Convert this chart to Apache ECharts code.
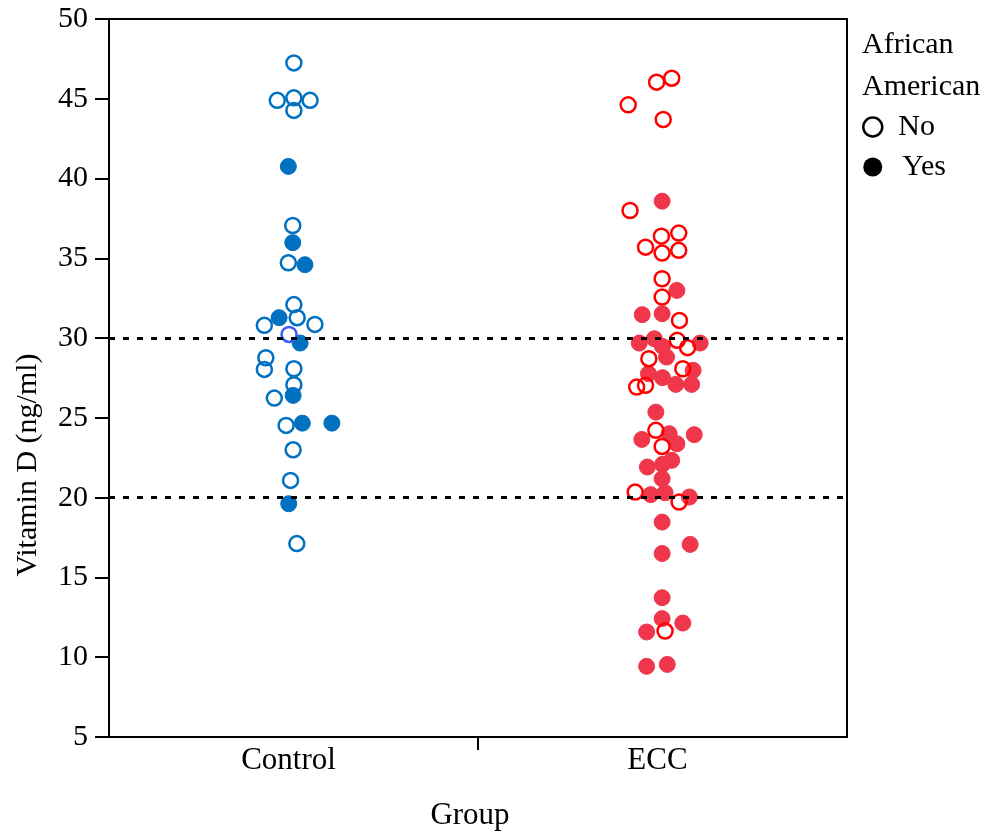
<!DOCTYPE html>
<html><head><meta charset="utf-8">
<script src="https://cdn.jsdelivr.net/npm/echarts@6/dist/echarts.min.js"></script>
<style>html,body{margin:0;padding:0;background:#fff}#c{width:992px;height:834px}</style>
</head><body><div id="c"></div>
<script>
// Groups (x = 1 Control, x = 2 ECC; x values include the horizontal jitter)
const groups = ['Control', 'ECC'];
const yTicks = [5, 50, 5]; // min, max, interval
const refLines = [30, 20];

// Control, African American = No  [x, vitamin D]
const controlNo = [
  [1.001, 47.25], [0.956, 44.9], [1.001, 45.06], [1.045, 44.9], [1.001, 44.27],
  [0.998, 37.06], [0.986, 34.72], [1.001, 32.1], [1.010, 31.28], [0.921, 30.8],
  [1.058, 30.86], [0.925, 28.77], [0.921, 28.04], [1.001, 28.08],
  [1.001, 27.08], [0.948, 26.24], [0.980, 24.53], [0.999, 23.0], [0.992, 21.08], [1.009, 17.12]
];
const controlNoOdd = [[0.988, 30.23]];
// Control, African American = Yes
const controlYes = [
  [0.986, 40.76], [0.998, 35.98], [1.031, 34.6], [0.961, 31.28], [1.018, 29.69],
  [0.999, 26.41], [1.024, 24.67], [1.104, 24.67], [0.987, 19.62]
];
// ECC, African American = No
const eccNo = [
  [1.984, 46.04], [2.025, 46.29], [1.907, 44.62], [2.002, 43.7], [1.912, 38.0],
  [1.997, 36.39], [2.044, 36.58], [1.954, 35.7], [1.999, 35.33], [2.044, 35.5],
  [1.999, 33.72], [1.999, 32.57], [2.046, 31.11], [2.040, 29.86], [2.068, 29.4],
  [1.963, 28.71], [2.055, 28.08], [1.930, 26.93], [1.954, 27.04], [1.982, 24.22],
  [1.999, 23.21], [1.926, 20.35], [2.045, 19.73], [2.007, 11.64]
];
// ECC, African American = Yes
const eccYes = [
  [1.999, 38.58], [2.039, 32.99], [1.945, 31.47], [1.999, 31.53], [1.978, 29.96],
  [1.937, 29.69], [2.000, 29.48], [2.102, 29.69], [2.011, 28.81], [2.083, 27.98],
  [1.962, 27.77], [2.000, 27.52], [2.036, 27.1], [2.079, 27.1], [1.982, 25.36],
  [2.018, 24.01], [1.944, 23.65], [2.086, 23.95], [2.039, 23.38], [2.025, 22.34],
  [1.959, 21.92], [2.000, 22.09], [1.999, 21.19], [1.968, 20.19], [2.007, 20.31],
  [2.073, 20.04], [1.999, 18.47], [2.075, 17.07], [1.999, 16.5], [1.999, 13.73],
  [1.999, 12.42], [2.055, 12.14], [1.957, 11.58], [1.957, 9.43], [2.013, 9.55]
];

const FONT = 'Liberation Serif, Times New Roman, serif';
const BLUE = '#0070c0', RED = '#ff0000', RED_FILL = '#f0364a';

const openStyle = c => ({ color: 'rgba(0,0,0,0)', borderColor: c, borderWidth: 2.5, opacity: 1 });
const fillStyle = c => ({ color: c, borderColor: c, borderWidth: 1, opacity: 1 });
const chart = echarts.init(document.getElementById('c'), null, { renderer: 'canvas' });
chart.setOption({
  animation: false,
  backgroundColor: '#fff',
  grid: { left: 109, top: 19, right: 145, bottom: 97, show: true, borderColor: '#000', borderWidth: 2, backgroundColor: 'transparent' },
  xAxis: {
    type: 'value', min: 0.5, max: 2.5, interval: 0.5,
    axisLine: { lineStyle: { color: '#000', width: 2 } },
    axisTick: { show: true, customValues: [1.5], length: 13, lineStyle: { color: '#000', width: 2 } },
    axisLabel: { customValues: [1, 2], formatter: v => groups[Math.round(v) - 1] || '', color: '#000', fontSize: 31, fontFamily: FONT, margin: 8, padding: [0, 10, 0, 0] },
    splitLine: { show: false }
  },
  yAxis: {
    type: 'value', min: yTicks[0], max: yTicks[1], interval: yTicks[2],
    axisLine: { show: true, lineStyle: { color: '#000', width: 2 } },
    axisTick: { show: true, length: 14, lineStyle: { color: '#000', width: 2 } },
    axisLabel: { color: '#000', fontSize: 30, fontFamily: FONT, margin: 21 },
    splitLine: { show: false }
  },
  legend: {
    orient: 'vertical', left: 857, top: 107, itemWidth: 19, itemHeight: 19, itemGap: 10,
    inactiveColor: '#000',
    textStyle: { color: '#000', fontSize: 30, fontFamily: FONT, padding: [0, 0, 0, 11] },
    data: [
      { name: 'No', icon: 'circle', itemStyle: { color: 'rgba(0,0,0,0)', borderColor: '#000', borderWidth: 2.5, opacity: 1 } },
      { name: 'Yes', icon: 'circle', itemStyle: { color: '#000', borderWidth: 0, opacity: 1 }, textStyle: { padding: [0, 0, 0, 15] } }
    ]
  },
  graphic: [
    { type: 'text', x: 28, y: 465, rotation: Math.PI / 2, style: { text: 'Vitamin D (ng/ml)', font: '30px ' + FONT, fill: '#000', align: 'center', verticalAlign: 'middle' } },
    { type: 'text', x: 470, y: 816, style: { text: 'Group', font: '31px ' + FONT, fill: '#000', align: 'center', verticalAlign: 'middle' } },
    { type: 'text', x: 862, y: 45, style: { text: 'African', font: '30px ' + FONT, fill: '#000', align: 'left', verticalAlign: 'middle' } },
    { type: 'text', x: 862, y: 87, style: { text: 'American', font: '30px ' + FONT, fill: '#000', align: 'left', verticalAlign: 'middle' } }
  ],
  series: [
    { name: 'Yes', type: 'scatter', data: controlYes, symbol: 'circle', symbolSize: 16, itemStyle: fillStyle(BLUE), z: 2,
      markLine: { silent: true, symbol: ['none', 'none'], label: { show: false }, lineStyle: { color: '#000', width: 3, type: [6, 8], opacity: 1 }, data: refLines.map(v => ({ yAxis: v })) } },
    { name: 'No', type: 'scatter', data: controlNo, symbol: 'circle', symbolSize: 15, itemStyle: openStyle(BLUE), z: 3 },
    { name: 'No', type: 'scatter', data: controlNoOdd, symbol: 'circle', symbolSize: 15, itemStyle: openStyle('#3b5cf5'), z: 3 },
    { name: 'Yes', type: 'scatter', data: eccYes, symbol: 'circle', symbolSize: 16, itemStyle: fillStyle(RED_FILL), z: 2 },
    { name: 'No', type: 'scatter', data: eccNo, symbol: 'circle', symbolSize: 15, itemStyle: openStyle(RED), z: 3 }
  ]
});
</script></body></html>
